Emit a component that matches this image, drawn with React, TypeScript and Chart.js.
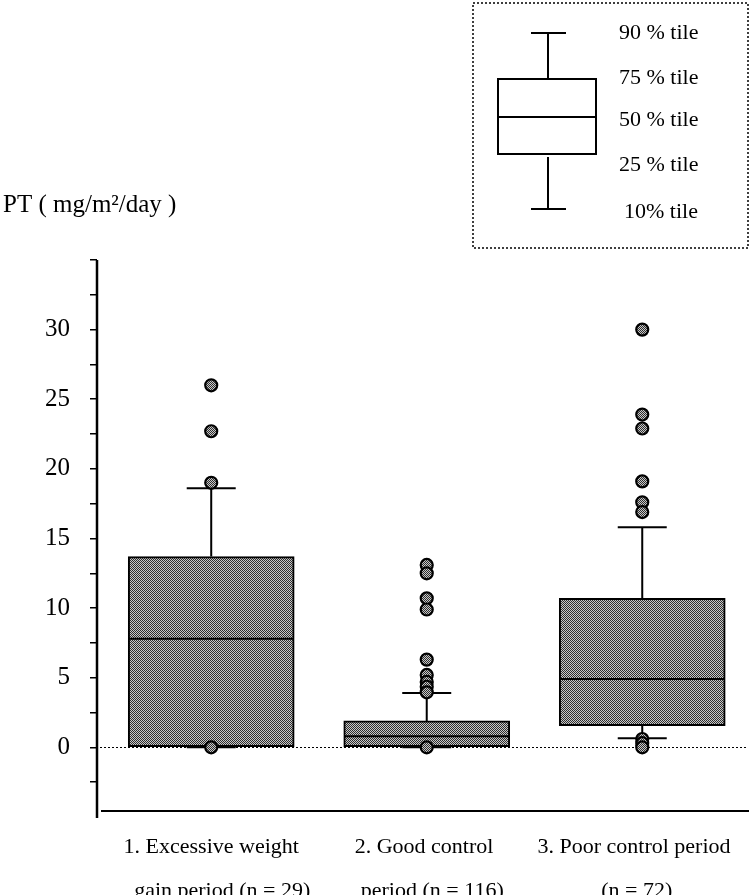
import React, { useEffect, useRef } from "react";
import { Chart, registerables } from "chart.js";

Chart.register(...registerables);

// ---------- data ----------
const groupPositions = [1, 2, 3];
const categoryLabels: string[][] = [
  ["1. Excessive weight", "    gain period (n = 29)"],
  ["2. Good control ", "  period (n = 116)"],
  ["3. Poor control period   ", "(n = 72)  "],
];
const p10 = [0, 0, 0.65];
const q1 = [0, 0, 1.55];
const medians = [7.8, 0.8, 4.9];
const q3 = [13.7, 1.9, 10.7];
const p90 = [18.6, 3.9, 15.8];
const outliersGroup1 = [26.0, 22.7, 19.0, 0];
const outliersGroup2 = [13.1, 12.5, 10.7, 9.9, 6.3, 5.2, 4.7, 4.35, 3.95, 0];
const outliersGroup3 = [30.0, 23.9, 22.9, 19.1, 17.6, 16.9, 0.6, 0.3, 0];
const yTickValues = [-2.5, 0, 2.5, 5, 7.5, 10, 12.5, 15, 17.5, 20, 22.5, 25, 27.5, 30, 32.5, 35];
const yLabelValues = [0, 5, 10, 15, 20, 25, 30];
const yMin = -4.5;
const yMax = 35;
const yAxisTitle = "PT ( mg/m²/day )";
const legendLabels = ["90 % tile", "75 % tile", "50 % tile", "25 % tile", "10% tile"];

const FONT = "'Liberation Serif', 'Times New Roman', serif";

function makePattern(ctx: CanvasRenderingContext2D): CanvasPattern | string {
  const c = document.createElement("canvas");
  c.width = 2;
  c.height = 2;
  const g = c.getContext("2d");
  if (!g) return "#808080";
  g.fillStyle = "#c8c8c8";
  g.fillRect(0, 0, 2, 2);
  g.fillStyle = "#2e2e2e";
  g.fillRect(0, 0, 1, 1);
  g.fillRect(1, 1, 1, 1);
  return ctx.createPattern(c, "repeat") || "#808080";
}

const decorPlugin = {
  id: "decor",
  beforeDatasetsDraw(chart: any) {
    const { ctx, chartArea, scales } = chart;
    const y0 = Math.round(scales.y.getPixelForValue(0)) + 0.5;
    ctx.save();
    ctx.strokeStyle = "#000";
    ctx.lineWidth = 1;
    ctx.setLineDash([2, 2]);
    ctx.beginPath();
    ctx.moveTo(chartArea.left + 3, y0);
    ctx.lineTo(chartArea.right - 2, y0);
    ctx.stroke();
    ctx.restore();
  },
  afterDraw(chart: any) {
    const { ctx, chartArea } = chart;
    ctx.save();
    ctx.strokeStyle = "#000";
    ctx.fillStyle = "#000";
    // axes
    ctx.lineWidth = 2.5;
    ctx.beginPath();
    ctx.moveTo(chartArea.left, chartArea.top);
    ctx.lineTo(chartArea.left, chartArea.bottom + 8);
    ctx.stroke();
    ctx.lineWidth = 2;
    ctx.beginPath();
    ctx.moveTo(chartArea.left + 4, chartArea.bottom + 1);
    ctx.lineTo(chartArea.right - 1, chartArea.bottom + 1);
    ctx.stroke();

    // axis title
    ctx.font = `25px ${FONT}`;
    ctx.textAlign = "left";
    ctx.textBaseline = "alphabetic";
    ctx.fillText(yAxisTitle, 3, 212);

    // key box
    ctx.lineWidth = 1.5;
    ctx.setLineDash([2, 2]);
    ctx.strokeRect(473, 3, 275, 245);
    ctx.setLineDash([]);
    ctx.lineWidth = 2;
    ctx.strokeRect(498, 79, 98, 75);
    ctx.beginPath();
    ctx.moveTo(498, 117);
    ctx.lineTo(596, 117);
    ctx.moveTo(548, 33);
    ctx.lineTo(548, 79);
    ctx.moveTo(531, 33);
    ctx.lineTo(566, 33);
    ctx.moveTo(548, 157);
    ctx.lineTo(548, 209);
    ctx.moveTo(531, 209);
    ctx.lineTo(566, 209);
    ctx.stroke();
    ctx.font = `22px ${FONT}`;
    ctx.textBaseline = "middle";
    const ys = [33, 78, 120, 165, 212];
    legendLabels.forEach((t, i) => {
      ctx.fillText(t, i === 4 ? 624 : 619, ys[i]);
    });
    ctx.restore();
  },
};

export default function App() {
  const canvasRef = useRef<HTMLCanvasElement | null>(null);

  useEffect(() => {
    document.body.style.margin = "0";
    const canvas = canvasRef.current;
    if (!canvas) return;
    const ctx = canvas.getContext("2d");
    if (!ctx) return;
    const pattern = makePattern(ctx);

    const boxData = groupPositions.map((x, i) => ({ x, y: [q1[i], q3[i]] }));
    const medianData = groupPositions.map((x, i) => ({ x, y: medians[i] }));
    const capData: any[] = [];
    groupPositions.forEach((x, i) => {
      capData.push({ x, y: p10[i] });
      capData.push({ x, y: p90[i] });
    });
    const whiskerData: any[] = [];
    groupPositions.forEach((x, i) => {
      whiskerData.push({ x, y: q3[i] }, { x, y: p90[i] }, { x, y: null });
      whiskerData.push({ x, y: q1[i] }, { x, y: p10[i] }, { x, y: null });
    });
    const outlierData: any[] = [];
    [outliersGroup1, outliersGroup2, outliersGroup3].forEach((arr, i) => {
      arr.forEach((v) => outlierData.push({ x: groupPositions[i], y: v }));
    });

    const chart = new Chart(ctx, {
      type: "bar",
      data: {
        datasets: [
          {
            type: "scatter",
            label: "outliers",
            data: outlierData,
            pointStyle: "circle",
            pointRadius: 6,
            pointBorderWidth: 2.2,
            pointBackgroundColor: pattern as any,
            pointBorderColor: "#000",
            order: 0,
          } as any,
          {
            type: "scatter",
            label: "caps",
            data: capData,
            pointStyle: "line",
            pointRadius: 24.5,
            pointBorderWidth: 2,
            pointBorderColor: "#000",
            order: 1,
          },
          {
            type: "scatter",
            label: "median",
            data: medianData,
            pointStyle: "line",
            pointRadius: 82,
            pointBorderWidth: 2,
            pointBorderColor: "#000",
            order: 2,
          },
          {
            type: "bar",
            label: "box",
            data: boxData as any,
            backgroundColor: pattern as any,
            borderColor: "#000",
            borderWidth: 2,
            borderSkipped: false,
            barThickness: 166,
            order: 3,
          },
          {
            type: "line",
            label: "whiskers",
            data: whiskerData,
            borderColor: "#000",
            borderWidth: 2,
            pointRadius: 0,
            spanGaps: false,
            fill: false,
            order: 4,
          },
        ],
      },
      options: {
        animation: false,
        responsive: false,
        devicePixelRatio: 1,
        events: [],
        layout: { autoPadding: false, padding: { top: 260, right: 6, left: 0, bottom: 0 } },
        plugins: { legend: { display: false }, tooltip: { enabled: false } },
        scales: {
          x: {
            type: "linear",
            offset: false,
            min: 0.47,
            max: 3.5,
            grid: { display: false },
            border: { display: false },
            afterBuildTicks: (s: any) => {
              s.ticks = groupPositions.map((v) => ({ value: v }));
            },
            afterFit: (s: any) => {
              s.height = 85;
              s.paddingLeft = 0;
              s.paddingRight = 0;
            },
            ticks: {
              autoSkip: false,
              maxRotation: 0,
              minRotation: 0,
              padding: 7,
              color: "#000",
              font: { family: FONT, size: 22, lineHeight: 2 },
              callback: (v: any) => {
                const i = groupPositions.indexOf(Number(v));
                return i >= 0 ? categoryLabels[i] : "";
              },
            },
          },
          y: {
            type: "linear",
            min: yMin,
            max: yMax,
            grid: {
              display: true,
              drawOnChartArea: false,
              drawTicks: true,
              tickLength: 7,
              color: "#000",
              lineWidth: 1.5,
            },
            border: { display: false },
            afterBuildTicks: (s: any) => {
              s.ticks = yTickValues.map((v) => ({ value: v }));
            },
            afterFit: (s: any) => {
              s.width = 97;
            },
            ticks: {
              padding: 20,
              color: "#000",
              font: { family: FONT, size: 25 },
              callback: (v: any) => (yLabelValues.includes(Number(v)) ? String(v) : ""),
            },
          },
        },
      } as any,
      plugins: [decorPlugin],
    });

    return () => chart.destroy();
  }, []);

  return (
    <div style={{ width: 756, height: 895 }}>
      <canvas ref={canvasRef} width={756} height={895} style={{ display: "block", width: 756, height: 895 }} />
    </div>
  );
}
